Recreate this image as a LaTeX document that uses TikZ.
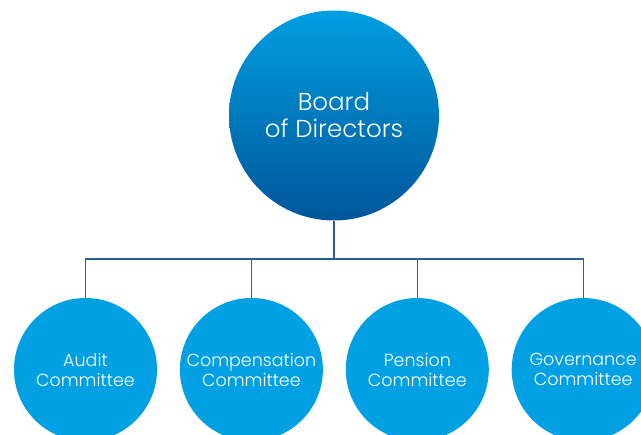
\documentclass[tikz,border=0pt]{standalone}
\usepackage{fontspec}
\setmainfont{Poppins}[UprightFont=* Light]
\usepackage{tikz}
\usetikzlibrary{positioning}

\definecolor{boardtop}{HTML}{009EE0}
\definecolor{boardbot}{HTML}{00569A}
\definecolor{cmtblue}{HTML}{00A0E3}
\definecolor{linkblue}{HTML}{2A5D93}

\begin{document}
\begin{tikzpicture}[x=1pt,y=-1pt,node distance=22.5pt,
  board/.style={circle,inner sep=0pt,minimum size=210pt,top color=boardtop,
    bottom color=boardbot,text=white,align=center,
    font=\fontsize{24.5}{27}\selectfont},
  cmt/.style={circle,inner sep=0pt,minimum size=143pt,fill=cmtblue,
    text=white,align=center,font=\fontsize{17.5}{20}\selectfont},
  link/.style={draw=linkblue,line width=1.2pt}]
 \clip (0,0) rectangle (641,435);
 \node[board] (B) at (334,115.5) {Board\\of Directors};
 \node[cmt] (A) at (85.5,369.5) {Audit\\Committee};
 \node[cmt,right=of A] (C) {Compensation\\Committee};
 \node[cmt,right=of C] (P) {Pension\\Committee};
 \node[cmt,right=of P] (G) {Governance\\Committee};
 \coordinate (bus) at (334,259);

 \path[link] (B) -- (bus)
 (A) |- (bus) -| (G)
 (C) -- (C |- bus)
 (P) -- (P |- bus);
\end{tikzpicture}
\end{document}
